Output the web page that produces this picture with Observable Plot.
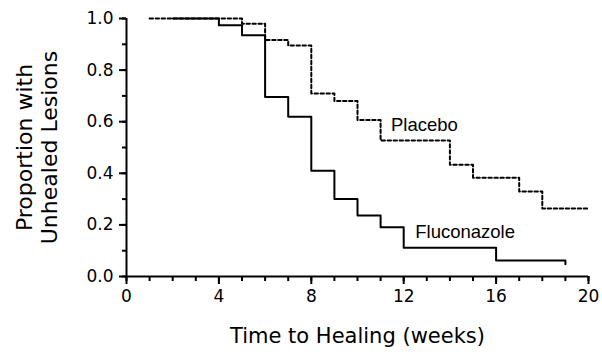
<!DOCTYPE html>
<html>
<head>
<meta charset="utf-8">
<script src="https://cdn.jsdelivr.net/npm/d3@7"></script>
<script src="https://cdn.jsdelivr.net/npm/@observablehq/plot@0.6"></script>
<style>
  html, body { margin: 0; padding: 0; background: #fff; }
  #chart svg { display: block; }
</style>
</head>
<body>
<div id="chart"></div>
<script>
// Kaplan–Meier step data (weeks, proportion with unhealed lesions)
const placeboWeeks = [1, 5, 6, 7, 8, 9, 10, 11, 14, 15, 17, 18, 20];
const placeboProp  = [1.0, 0.98, 0.917, 0.895, 0.709, 0.68, 0.607, 0.527, 0.433, 0.383, 0.329, 0.264, 0.264];
const flucoWeeks   = [2, 4, 5, 6, 7, 8, 9, 10, 11, 12, 16, 19];
const flucoProp    = [1.0, 0.974, 0.935, 0.696, 0.619, 0.41, 0.30, 0.236, 0.191, 0.111, 0.062, 0.047];

// Series labels and where they sit (data coordinates)
const seriesNames = ["Placebo", "Fluconazole"];
const labelWeeks  = [11.45, 12.5];
const labelProps  = [0.585, 0.172];

// Axis ticks
const xMajorTicks = [0, 4, 8, 12, 16, 20];
const xMinorTicks = [0, 1, 2, 3, 4, 5, 6, 7, 8, 9, 10, 11, 12, 13, 14, 15, 16, 17, 18, 19, 20];
const yMajorTicks = [0, 0.2, 0.4, 0.6, 0.8, 1.0];
const yMinorTicks = [0, 0.1, 0.2, 0.3, 0.4, 0.5, 0.6, 0.7, 0.8, 0.9, 1.0];

const xTitle = "Time to Healing (weeks)";
const yTitle = "Proportion with\nUnhealed Lesions";

const placebo = placeboWeeks.map((w, i) => ({week: w, prop: placeboProp[i]}));
const fluco = flucoWeeks.map((w, i) => ({week: w, prop: flucoProp[i]}));
const labels = seriesNames.map((s, i) => ({name: s, week: labelWeeks[i], prop: labelProps[i]}));

const axisFont = "'DejaVu Sans', sans-serif";
const labelFont = "'Liberation Sans', Arial, sans-serif";

const chart = Plot.plot({
  width: 602,
  height: 352,
  marginLeft: 126,
  marginRight: 14,
  marginTop: 18,
  marginBottom: 76,
  style: {background: "#fff", color: "#000", fontFamily: axisFont},
  x: {domain: [0, 20]},
  y: {domain: [0, 1]},
  marks: [
    // minor ticks
    Plot.axisX({ticks: xMinorTicks, tickSize: 5, strokeWidth: 2, tickFormat: () => "", label: null}),
    Plot.axisY({ticks: yMinorTicks, tickSize: 4, strokeWidth: 2, tickFormat: () => "", label: null}),
    // major ticks with labels
    Plot.axisX({ticks: xMajorTicks, tickSize: 8, tickPadding: 5, strokeWidth: 2, fontSize: 17, fontFamily: axisFont, label: null}),
    Plot.axisY({ticks: yMajorTicks, tickSize: 7, tickPadding: 6, strokeWidth: 2, fontSize: 17, fontFamily: axisFont, tickFormat: ".1f", label: null}),
    // axis lines
    Plot.ruleY([0], {strokeWidth: 2}),
    Plot.ruleX([0], {strokeWidth: 2}),
    // curves
    Plot.line(placebo, {x: "week", y: "prop", curve: "step-after", stroke: "#000", strokeWidth: 2, strokeDasharray: "3.4,2.6"}),
    Plot.line(fluco, {x: "week", y: "prop", curve: "step-after", stroke: "#000", strokeWidth: 2}),
    // series labels
    Plot.text(labels, {x: "week", y: "prop", text: "name", textAnchor: "start", lineAnchor: "middle", fontSize: 18.5, fontFamily: labelFont, fill: "#000"}),
    // axis titles
    Plot.text([xTitle], {frameAnchor: "bottom", textAnchor: "middle", lineAnchor: "middle", dy: 60, fontSize: 21, fontFamily: axisFont, fill: "#000"}),
    Plot.text([yTitle], {frameAnchor: "left", textAnchor: "middle", lineAnchor: "middle", rotate: -90, dx: -90, fontSize: 22, lineHeight: 1.12, fontFamily: axisFont, fill: "#000"})
  ]
});

document.getElementById("chart").appendChild(chart);
</script>
</body>
</html>
